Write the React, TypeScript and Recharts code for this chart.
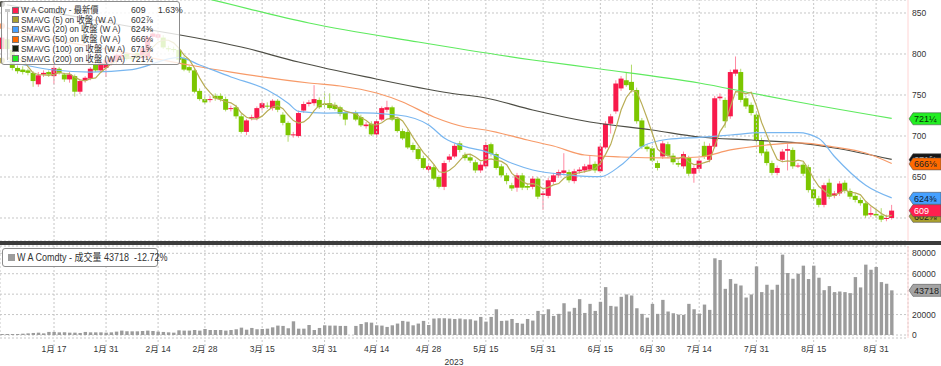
import { ComposedChart, Bar, Line, XAxis, YAxis, CartesianGrid, ReferenceLine } from 'recharts'

// one slot per trading day, Dec 30 2022 .. Sep 6 2023 (slot 67 = Good Friday, empty)
const opens = [
  806, 818, 805, 783, 781, 780, 777, 763, 775, 778, 773, 782, 775, 769, 773, 754, 768, 770, 787, 780,
  783, 789, 791, 793, 800, 795, 801, 795, 795, 821, 820, 820, 807, 806, 805, 795, 784, 780, 755, 745,
  744, 749, 749, 745, 733, 735, 724, 705, 722, 722, 734, 737, 734, 743, 726, 716, 701, 700, 731, 739,
  740, 744, 739, 740, 738, 735, 728, null, 728, 723, 712, 715, 702, 720, 732, 735, 721, 706, 705, 689,
  684, 673, 659, 662, 650, 638, 671, 675, 691, 677, 674, 668, 658, 663, 690, 678, 663, 652, 640, 637,
  652, 639, 638, 648, 628, 627, 644, 652, 655, 656, 645, 657, 658, 659, 666, 657, 686, 715, 730, 758,
  768, 766, 756, 719, 687, 685, 667, 675, 690, 676, 667, 663, 673, 654, 660, 688, 671, 687, 746, 744,
  724, 776, 778, 746, 738, 726, 695, 681, 667, 655, 671, 682, 683, 664, 665, 662, 635, 624, 616, 643,
  627, 630, 643, 633, 627, 622, 618, 604, 605, 603, 599, 600,
]
const highs = [
  824, 821, 808, 786, 785, 782, 779, 778, 780, 780, 786, 784, 777, 778, 775, 769, 773, 784, 790, 791,
  795, 798, 801, 802, 802, 797, 803, 809, 823, 831, 827, 823, 810, 809, 807, 797, 786, 782, 758, 748,
  749, 752, 752, 748, 737, 738, 727, 721, 726, 736, 742, 741, 745, 745, 729, 718, 705, 731, 742, 744,
  762, 747, 752, 752, 741, 737, 730, null, 731, 726, 717, 718, 720, 736, 743, 737, 723, 709, 708, 692,
  687, 676, 666, 665, 652, 670, 678, 691, 694, 680, 677, 671, 668, 693, 692, 680, 666, 655, 643, 655,
  655, 642, 651, 650, 633, 649, 655, 659, 679, 659, 660, 662, 666, 676, 669, 689, 718, 727, 768, 773,
  778, 787, 759, 722, 690, 688, 670, 694, 693, 679, 670, 681, 676, 664, 673, 693, 691, 749, 752, 747,
  781, 797, 782, 749, 741, 729, 698, 684, 670, 664, 684, 690, 686, 667, 668, 665, 638, 627, 643, 648,
  633, 645, 646, 636, 630, 625, 620, 614, 610, 612, 604, 616,
]
const lows = [
  803, 802, 780, 776, 775, 774, 760, 760, 772, 772, 763, 775, 766, 765, 748, 751, 765, 768, 778, 777,
  772, 786, 788, 790, 792, 791, 793, 793, 793, 818, 817, 806, 803, 802, 790, 779, 777, 752, 743, 739,
  741, 743, 742, 730, 730, 721, 703, 701, 719, 719, 731, 733, 731, 729, 713, 693, 698, 698, 728, 736,
  737, 733, 734, 732, 731, 724, 713, null, 718, 711, 709, 700, 698, 718, 729, 718, 704, 695, 684, 680,
  670, 659, 655, 646, 636, 634, 668, 673, 680, 670, 667, 655, 655, 661, 675, 659, 650, 641, 633, 632,
  634, 634, 635, 623, 610, 624, 641, 649, 652, 643, 642, 654, 655, 657, 655, 655, 684, 703, 727, 755,
  760, 753, 715, 684, 681, 668, 658, 672, 673, 665, 662, 660, 651, 643, 657, 672, 668, 685, 743, 710,
  721, 773, 741, 733, 725, 692, 676, 664, 652, 652, 668, 658, 660, 661, 651, 631, 621, 613, 613, 623,
  624, 627, 630, 623, 619, 615, 600, 601, 600, 595, 596, 598,
]
const closes = [
  820, 806, 783, 779, 778, 777, 767, 774, 777, 775, 783, 777, 769, 775, 754, 767, 771, 782, 780, 789,
  793, 796, 799, 799, 794, 794, 795, 807, 821, 825, 824, 808, 806, 805, 793, 781, 780, 754, 745, 741,
  745, 746, 745, 732, 734, 724, 705, 719, 723, 734, 740, 736, 743, 732, 716, 701, 702, 728, 739, 741,
  745, 735, 738, 734, 733, 727, 720, null, 720, 713, 714, 702, 718, 734, 735, 720, 706, 697, 686, 683,
  672, 661, 663, 648, 638, 667, 675, 688, 683, 673, 670, 658, 665, 689, 678, 661, 652, 645, 636, 652,
  637, 637, 648, 626, 630, 646, 652, 656, 658, 646, 657, 659, 663, 665, 658, 687, 715, 724, 764, 770,
  762, 756, 718, 687, 684, 670, 661, 691, 676, 668, 665, 678, 654, 661, 670, 675, 688, 746, 748, 718,
  778, 781, 744, 736, 728, 695, 679, 667, 655, 661, 681, 684, 663, 664, 654, 634, 624, 616, 640, 626,
  630, 642, 633, 626, 622, 618, 603, 606, 603, 598, 600, 609,
]
const volumes = [
  1000, 1000, 1000, 1000, 1300, 1600, 2000, 2300, 1600, 3000, 3000, 2600, 2600, 2300, 2300, 2000, 3000, 2600, 2600, 2600,
  2300, 2600, 3300, 4300, 3600, 3600, 3600, 3900, 4300, 3900, 3300, 3000, 2600, 2300, 4600, 4300, 4300, 4900, 4300, 5900,
  4900, 4900, 4900, 4300, 4900, 5600, 7200, 5200, 6900, 5600, 5900, 6200, 7500, 9200, 8900, 6600, 13400, 6200, 6200, 9800,
  4900, 6900, 9500, 9200, 9200, 8900, 8900, null, 8900, 10800, 12500, 12100, 9500, 9200, 7900, 9500, 11200, 13800, 13100, 9500,
  11200, 13800, 9800, 16100, 16400, 16400, 16100, 15700, 16100, 15400, 15400, 14100, 17700, 13100, 17700, 25200, 13800, 14100, 15700, 11800,
  11100, 15700, 14100, 23600, 20300, 25200, 18700, 20700, 31100, 23000, 26600, 35100, 21600, 30500, 23600, 32500, 46900, 28500, 27900, 37400,
  39700, 38700, 26200, 20700, 17000, 30500, 20700, 34400, 23000, 21300, 20000, 19700, 30500, 25200, 21000, 29800, 24600, 75100, 73400, 45200,
  54800, 50200, 48500, 36700, 39700, 67200, 42000, 49200, 44300, 49200, 78700, 60700, 55100, 60000, 67900, 54800, 67900, 56100, 43900, 47900,
  42000, 42600, 42000, 41000, 56700, 46600, 68900, 63900, 66600, 51800, 50200, 43718,
]
const sma5 = [
  792, 795, 795, 794, 793.2, 784.6, 776.8, 775, 774.6, 774, 775.2, 777.2, 776.2, 775.8, 771.6, 768.4, 767.2, 769.8, 770.8, 777.8,
  783, 788, 791.4, 795.2, 796.2, 796.4, 796.2, 797.8, 802.2, 808.4, 814.4, 817, 816.8, 813.6, 807.2, 798.6, 793, 782.6, 770.6, 760.2,
  753, 746.2, 744.4, 741.8, 740.4, 736.2, 728, 722.8, 721, 721, 724.2, 730.4, 735.2, 737, 733.4, 725.6, 718.8, 715.8, 717.2, 722.2,
  731, 737.6, 739.6, 738.6, 737, 733.4, 730.4, null, 726.8, 722.6, 718.8, 713.8, 713.4, 716.2, 720.6, 721.8, 722.6, 718.4, 708.8, 698.4,
  688.8, 679.8, 673, 665.4, 656.4, 655.4, 658.2, 663.2, 670.2, 677.2, 677.8, 674.4, 669.8, 671, 672, 670.2, 669, 665, 654.4, 649.2,
  644.4, 641.4, 642, 640, 635.6, 637.4, 640.4, 642, 648.4, 651.6, 653.8, 655.2, 656.6, 658, 660.4, 666.4, 677.6, 689.8, 709.6, 732,
  747, 755.2, 754, 738.6, 721.4, 703, 684, 678.6, 676.4, 673.2, 672.2, 675.6, 668.2, 665.2, 665.6, 667.6, 669.6, 688, 705.4, 715,
  735.6, 754.2, 753.8, 751.4, 753.4, 736.8, 716.4, 701, 684.8, 671.4, 668.6, 669.6, 668.8, 670.6, 669.2, 659.8, 647.8, 638.4, 633.6, 628,
  627.2, 630.8, 634.2, 631.4, 630.6, 628.2, 620.4, 615, 610.4, 605.6, 602, 603.2,
]

// longer averages at [slot, value]
const sma20Pts = [
  [0, 792.7], [10, 780.5], [17, 778], [25, 781], [34, 796], [38, 786.6], [44, 772], [51, 756], [55, 740], [57, 730],
  [62, 728], [67, 728.4], [76, 725.6], [82, 713.4], [85, 697.6], [89, 687], [93, 681], [98, 666.7], [102, 658.5], [109, 652.4],
  [115, 650.4], [119, 664.6], [123, 687], [128, 696], [134, 698.4], [140, 701.2], [146, 704], [153, 704], [157, 697], [160, 675],
  [166, 640], [171, 624.5],
]
const sma50Pts = [
  [0, 834], [4, 826], [20, 806], [36, 786.6], [44, 778], [59, 764.6], [65, 761], [72, 752.4], [77, 741.5], [83, 723.2],
  [89, 711], [93, 707.3], [101, 695.1], [106, 687.8], [112, 676.8], [119, 674.4], [128, 673.2], [134, 674.4], [140, 683], [147, 689],
  [153, 691.5], [160, 686.6], [166, 679.3], [171, 666.5],
]
const sma100Pts = [
  [0, 861], [12, 848], [23, 835.4], [46, 808.5], [57, 790.2], [70, 772], [86, 752.4], [93, 746.3], [102, 731.7], [113, 717.1],
  [125, 707.3], [134, 698.8], [144, 695.1], [153, 691.5], [160, 685.4], [171, 671.5],
]
const sma200Pts = [
  [30, 881], [40, 866.5], [59, 837.8], [80, 814.6], [102, 792.7], [115, 781.7], [134, 764.6], [144, 752.4], [153, 741.5], [171, 721.5],
]

const tickIdx = [10, 20, 30, 39, 50, 62, 72, 82, 93, 104, 115, 125, 134, 145, 156, 168]
const tickLabels = [
  '1月 17', '1月 31', '2月 14', '2月 28', '3月 15', '3月 31', '4月 14', '4月 28',
  '5月 15', '5月 31', '6月 15', '6月 30', '7月 14', '7月 31', '8月 15', '8月 31',
]
const priceTicks = [600, 650, 700, 750, 800, 850]
const volTicks = [0, 20000, 40000, 60000, 80000]

const flagValues = [602, 609, 671, 666, 624, 721]
const flagTexts = ['602⅞', '609', '671⅝', '666⅛', '624⅜', '721¼']
const flagBg = ['#aaa02e', '#ff1f4f', '#151515', '#ff6a00', '#45a0ff', '#22ee22']
const flagFg = ['#222', '#fff', '#ddd', '#222', '#102030', '#063006']

const legendNames = [
  'W A Comdty - 最新價',
  'SMAVG (5) on 收盤 (W A)',
  'SMAVG (20) on 收盤 (W A)',
  'SMAVG (50) on 收盤 (W A)',
  'SMAVG (100) on 收盤 (W A)',
  'SMAVG (200) on 收盤 (W A)',
]
const legendValues = ['609', '602⅞', '624⅜', '666⅛', '671⅝', '721¼']
const legendColors = ['#ff1f4f', '#aaa02e', '#45a0ff', '#ff6a00', '#15200f', '#22ee22']

const FONT = '"Liberation Sans", "Noto Sans CJK TC", sans-serif'
const X_DOMAIN: [number, number] = [-0.384, 174.13]
const PRICE_DOMAIN: [number, number] = [571.95, 865.85]
const VOL_DOMAIN: [number, number] = [-2937, 87145]

const RED = '#f81a4b'
const RED_WICK = '#ff8aa2'
const GREEN = '#7cc600'
const GREEN_WICK = '#b0da68'

const toMap = (pts: number[][]) => {
  const m: Record<number, number> = {}
  pts.forEach(([i, v]) => (m[i] = v))
  return m
}
const m20 = toMap(sma20Pts)
const m50 = toMap(sma50Pts)
const m100 = toMap(sma100Pts)
const m200 = toMap(sma200Pts)

const rows = closes.map((c, i) => ({
  i,
  o: opens[i],
  h: highs[i],
  l: lows[i],
  c,
  v: volumes[i],
  s5: sma5[i],
  s20: m20[i] ?? null,
  s50: m50[i] ?? null,
  s100: m100[i] ?? null,
  s200: m200[i] ?? null,
}))

function Candle(props: any) {
  const { x, y, width, height, payload } = props
  if (!payload || payload.c == null) return null
  const { o, h, l, c } = payload
  const top = Math.min(y, y + height)
  const span = Math.abs(height)
  const py = (p: number) => top + ((h - p) / (h - l || 1)) * span
  const up = c >= o
  const cx = x + width / 2
  const bTop = py(Math.max(o, c))
  const bH = Math.max(1, py(Math.min(o, c)) - bTop)
  return (
    <g>
      <line x1={cx} x2={cx} y1={py(h)} y2={py(l)} stroke={up ? RED_WICK : GREEN_WICK} strokeWidth={1} />
      <rect x={x} y={bTop} width={width} height={bH} fill={up ? RED : GREEN} />
    </g>
  )
}

function flagLabel(text: string, bg: string, fg: string) {
  return (props: any) => {
    const vb = props.viewBox || {}
    const x0 = (vb.x ?? 0) + (vb.width ?? 0)
    const yc = vb.y ?? 0
    return (
      <g>
        <path
          d={`M${x0 + 1},${yc} L${x0 + 5},${yc - 6} L${x0 + 33},${yc - 6} L${x0 + 33},${yc + 6} L${x0 + 5},${yc + 6} Z`}
          fill={bg}
          stroke="#555"
          strokeWidth={0.6}
        />
        <text x={x0 + 6} y={yc + 3.2} fontSize={9} fill={fg} fontFamily={FONT}>
          {text}
        </text>
      </g>
    )
  }
}

const axisTick = { fontSize: 8.5, fill: '#333', fontFamily: FONT }

// condensed legend text (the terminal font is narrower than what is installed)
const squeeze = (text: string, left: number, sx: number) => (
  <span
    style={{
      position: 'absolute', left, whiteSpace: 'pre', display: 'inline-block',
      transform: `scaleX(${sx})`, transformOrigin: 'left center',
    }}
  >
    {text}
  </span>
)

export default function App() {
  return (
    <div style={{ position: 'absolute', left: 0, top: 0, width: 941, height: 366, background: '#fff', overflow: 'hidden', fontFamily: FONT }}>
      {/* price panel */}
      <div style={{ position: 'absolute', left: 0, top: 0 }}>
        <ComposedChart width={941} height={241} data={rows} margin={{ top: 0, right: 0, bottom: 0, left: 0 }}>
          <CartesianGrid vertical={false} stroke="#c6c6c6" strokeDasharray="2 2" />
          <XAxis dataKey="i" type="number" domain={X_DOMAIN} allowDataOverflow hide />
          <YAxis
            orientation="right"
            width={33}
            domain={PRICE_DOMAIN}
            allowDataOverflow
            ticks={priceTicks}
            interval={0}
            tickFormatter={(v: number) => (v === 600 ? '' : String(v))}
            tick={axisTick}
            tickLine={false}
            tickSize={0}
            tickMargin={4}
            axisLine={{ stroke: '#ffd4d4' }}
          />
          {tickIdx.map((t) => (
            <ReferenceLine key={t} x={t} stroke="#c6c6c6" strokeDasharray="2 2" />
          ))}
          <Bar
            dataKey={(d: any) => (d.c == null ? null : [d.l, d.h])}
            shape={(p: any) => <Candle {...p} />}
            barSize={5}
            isAnimationActive={false}
          />
          <Line dataKey="s200" type="monotone" stroke="#5fea5f" strokeWidth={1.2} dot={false} connectNulls isAnimationActive={false} />
          <Line dataKey="s100" type="monotone" stroke="#4d4d44" strokeWidth={1.2} dot={false} connectNulls isAnimationActive={false} />
          <Line dataKey="s50" type="monotone" stroke="#f79a68" strokeWidth={1.2} dot={false} connectNulls isAnimationActive={false} />
          <Line dataKey="s20" type="monotone" stroke="#78b6f0" strokeWidth={1.2} dot={false} connectNulls isAnimationActive={false} />
          <Line dataKey="s5" type="linear" stroke="#b9ad55" strokeWidth={1.2} dot={false} connectNulls isAnimationActive={false} />
          {flagValues.map((v, k) => (
            <ReferenceLine key={'f' + k} y={v} stroke="none" label={flagLabel(flagTexts[k], flagBg[k], flagFg[k])} />
          ))}
        </ComposedChart>
      </div>

      {/* separator */}
      <div style={{ position: 'absolute', left: 0, top: 241, width: 941, height: 4, background: '#3c3c3c' }} />

      {/* volume panel */}
      <div style={{ position: 'absolute', left: 0, top: 241 }}>
        <ComposedChart width={941} height={125} data={rows} margin={{ top: 5, right: 0, bottom: 0, left: 0 }}>
          <CartesianGrid stroke="#c6c6c6" strokeDasharray="2 2" />
          <XAxis
            dataKey="i"
            type="number"
            domain={X_DOMAIN}
            allowDataOverflow
            ticks={tickIdx}
            interval={0}
            height={28}
            tickFormatter={(v: number) => tickLabels[tickIdx.indexOf(v)] ?? ''}
            tick={{ fontSize: 8.5, fill: '#333', fontFamily: FONT }}
            tickLine={{ stroke: '#c6c6c6', strokeDasharray: '2 2' }}
            tickSize={8}
            tickMargin={0}
            axisLine={false}
            label={{ value: '2023', position: 'insideBottom', offset: 1, fontSize: 8.5, fill: '#333', fontFamily: FONT }}
          />
          <YAxis
            orientation="right"
            width={33}
            domain={VOL_DOMAIN}
            allowDataOverflow
            ticks={volTicks}
            interval={0}
            tickFormatter={(v: number) => (v === 40000 ? '' : String(v))}
            tick={axisTick}
            tickLine={false}
            tickSize={0}
            tickMargin={4}
            axisLine={{ stroke: '#ffd4d4' }}
          />
          <Bar dataKey="v" fill="#9c9c9c" barSize={3.4} isAnimationActive={false} />
          <ReferenceLine y={43718} stroke="none" label={flagLabel('43718', '#a4a4a4', '#222')} />
        </ComposedChart>
      </div>

      {/* price legend */}
      <div
        style={{
          position: 'absolute', left: 1, top: 1, width: 177, height: 62,
          background: 'rgba(255,255,255,0.8)', border: '1px solid #8c8c8c', borderRadius: 3,
        }}
      >
        <div style={{ position: 'absolute', left: 5, top: 8, width: 1, height: 50, background: '#b8b8b8' }} />
        <div style={{ position: 'absolute', left: 3, top: 7, width: 5, height: 3, background: '#c8c8c8' }} />
        {legendNames.map((name, k) => (
          <div key={k} style={{ position: 'absolute', left: 0, top: 3 + k * 9.7, height: 10, width: 177, fontSize: 9.5, lineHeight: '10px', color: '#333' }}>
            <div style={{ position: 'absolute', left: 10, top: 1.5, width: 7, height: 7, background: legendColors[k], border: '0.5px solid #777', boxSizing: 'border-box' }} />
            {squeeze(name, 19, 0.87)}
            {squeeze(legendValues[k], 129, 0.92)}
            {k === 0 && squeeze('1.63%', 156, 0.92)}
          </div>
        ))}
      </div>

      {/* volume legend */}
      <div
        style={{
          position: 'absolute', left: 2, top: 248, width: 154, height: 17,
          background: '#fff', border: '1px solid #8c8c8c', borderRadius: 3, fontSize: 10, lineHeight: '17px', color: '#333',
        }}
      >
        <div style={{ position: 'absolute', left: 5, top: 5, width: 7, height: 7, background: '#9c9c9c' }} />
        {squeeze('W A Comdty - 成交量 43718  -12.72%', 14, 0.9)}
      </div>
    </div>
  )
}
